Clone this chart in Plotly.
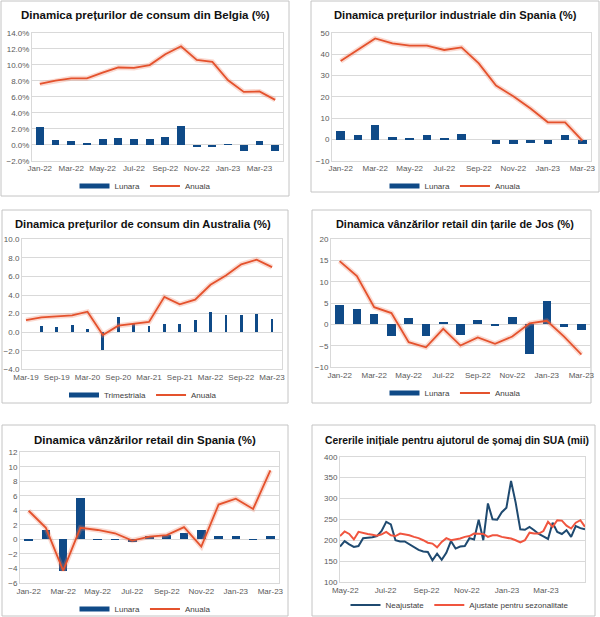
import plotly.graph_objects as go
import pandas as pd

# ---------------- data ----------------
months16 = ["Jan-22", "Feb-22", "Mar-22", "Apr-22", "May-22", "Jun-22", "Jul-22", "Aug-22",
            "Sep-22", "Oct-22", "Nov-22", "Dec-22", "Jan-23", "Feb-23", "Mar-23", "Apr-23"]
months15 = months16[:15]

be_lunara = [2.2, 0.65, 0.5, 0.3, 0.7, 0.85, 0.75, 0.75, 0.95, 2.4, -0.2, -0.15, 0.05, -0.7, 0.55, -0.75]
be_anuala = [7.6, 8.0, 8.3, 8.3, 9.0, 9.65, 9.6, 9.95, 11.3, 12.3, 10.6, 10.35, 8.05, 6.6, 6.65, 5.6]

es_ind_lunara = [4.0, 2.0, 6.7, 1.3, 0.8, 2.0, 0.5, 2.7, None, -2.0, -2.2, -1.5, -2.0, 2.4, -2.0]
es_ind_anuala = [36.7, 42.0, 47.3, 45.0, 43.9, 43.9, 41.9, 43.1, 35.6, 25.2, 20.2, 14.5, 8.0, 8.0, -0.6]

quarters = ["Mar-19", "Jun-19", "Sep-19", "Dec-19", "Mar-20", "Jun-20", "Sep-20", "Dec-20",
            "Mar-21", "Jun-21", "Sep-21", "Dec-21", "Mar-22", "Jun-22", "Sep-22", "Dec-22", "Mar-23"]
au_trim = [None, 0.6, 0.5, 0.7, 0.3, -1.9, 1.6, 0.9, 0.6, 0.8, 0.8, 1.3, 2.1, 1.8, 1.8, 1.9, 1.4]
au_anuala = [1.3, 1.6, 1.7, 1.8, 2.2, -0.3, 0.7, 0.9, 1.1, 3.8, 3.0, 3.5, 5.1, 6.1, 7.3, 7.8, 7.0]

nl_lunara = [4.5, 3.6, 2.4, -2.8, 1.4, -2.8, 0.6, -2.4, 1.1, -0.5, 1.7, -6.9, 5.4, -0.7, -1.4]
nl_anuala = [14.9, 11.4, 4.1, 2.7, -4.1, -5.3, -1.0, -4.9, -3.0, -4.5, -2.8, 0.3, 0.9, -2.8, -7.0]

es_ret_lunara = [-0.2, 1.2, -4.4, 5.65, -0.05, -0.1, -0.45, 0.4, 0.6, 0.85, 1.3, 0.5, 0.4, -0.1, 0.5]
es_ret_anuala = [3.95, 1.6, -4.3, 1.6, 1.3, 0.85, -0.15, 0.4, 0.6, 1.7, -1.0, 4.8, 5.6, 4.2, 9.5]

us_start = "2022-04-23"
us_neajustate = [185, 198, 190, 184, 186, 205, 206, 207, 210, 222, 244, 238, 200, 197, 197, 190, 183, 177, 173, 172,
                 152, 168, 153, 170, 198, 180, 185, 186, 205, 202, 249, 200, 288, 250, 249, 267, 278,
                 342, 290, 226, 225, 232, 224, 215, 209, 203, 242, 220, 215, 224, 208, 234, 229, 226]
us_ajustate = [210, 221, 215, 202, 220, 217, 215, 213, 211, 214, 220, 212, 210, 216, 214, 212, 208,
               205, 200, 194, 192, 183, 196, 205, 200, 202, 204, 208, 210, 216, 215, 215, 208, 212, 212, 208, 206,
               204, 200, 195, 200, 218, 216, 216, 222, 244, 232, 248, 247, 235, 228, 242, 248, 232]

titles = ["Dinamica prețurilor de consum din Belgia (%)",
          "Dinamica prețurilor industriale din Spania (%)",
          "Dinamica prețurilor de consum din Australia (%)",
          "Dinamica vânzărilor retail din țarile de Jos (%)",
          "Dinamica vânzărilor retail din Spania (%)",
          "Cererile inițiale pentru ajutorul de șomaj din SUA (mii)"]

# ---------------- style ----------------
W, H = 600, 617
BLUE = "#0f4a87"
RED = "#e4522d"
GLOW = "rgba(240,130,100,0.30)"
GRID = "#d9d9d9"
TICKF = dict(family="Liberation Sans, Arial, sans-serif", size=8, color="#595959")
TITLE_FAMILY = "Liberation Sans, Arial, sans-serif"
title_sizes = [11.5, 11.2, 11.2, 10.9, 11.5, 10.3]


def px(x):
    return x / W


def py(y):
    return 1 - y / H


us_dates = pd.date_range(us_start, periods=len(us_neajustate), freq="7D")

fig = go.Figure()

doms = {
    1: ((32, 283), (32.7, 160.7)),
    2: ((332, 591), (32.7, 160.7)),
    3: ((22, 282), (239.3, 369.3)),
    4: ((331, 590), (239.3, 367.3)),
    5: ((20, 279), (452.3, 583)),
    6: ((340, 585), (456.7, 582)),
}


def ax(i):
    return ("x" if i == 1 else f"x{i}"), ("y" if i == 1 else f"y{i}")


def lg(i):
    return "legend" if i == 1 else f"legend{i}"


def add_bar_line(i, cats, bars, line, bar_name, bar_width):
    xa, ya = ax(i)
    fig.add_trace(go.Bar(x=cats, y=bars, xaxis=xa, yaxis=ya, marker=dict(color=BLUE, line=dict(width=0)),
                         width=bar_width, showlegend=False, name=bar_name))
    fig.add_trace(go.Scatter(x=cats, y=line, xaxis=xa, yaxis=ya, mode="lines",
                             line=dict(color=GLOW, width=5), showlegend=False, hoverinfo="skip"))
    fig.add_trace(go.Scatter(x=cats, y=line, xaxis=xa, yaxis=ya, mode="lines",
                             line=dict(color=RED, width=1.8), showlegend=False, name="Anuala"))
    # legend keys
    fig.add_trace(go.Scatter(x=[None], y=[None], xaxis=xa, yaxis=ya, mode="lines",
                             line=dict(color=BLUE, width=5), name=bar_name, legend=lg(i)))
    fig.add_trace(go.Scatter(x=[None], y=[None], xaxis=xa, yaxis=ya, mode="lines",
                             line=dict(color=RED, width=2), name="Anuala", legend=lg(i)))


add_bar_line(1, months16, be_lunara, be_anuala, "Lunara", 0.5)
add_bar_line(2, months15, es_ind_lunara, es_ind_anuala, "Lunara", 0.5)
add_bar_line(3, quarters, au_trim, au_anuala, "Trimestriala", 0.18)
add_bar_line(4, months15, nl_lunara, nl_anuala, "Lunara", 0.5)
add_bar_line(5, months15, es_ret_lunara, es_ret_anuala, "Lunara", 0.5)

fig.add_trace(go.Scatter(x=us_dates, y=us_neajustate, xaxis="x6", yaxis="y6", mode="lines",
                         line=dict(color="#1f4a70", width=2), name="Neajustate", legend="legend6"))
fig.add_trace(go.Scatter(x=us_dates, y=us_ajustate, xaxis="x6", yaxis="y6", mode="lines",
                         line=dict(color="#f0553f", width=2), name="Ajustate pentru sezonalitate",
                         legend="legend6"))

layout = dict(width=W, height=H, margin=dict(l=0, r=0, t=0, b=0, pad=0, autoexpand=False),
              paper_bgcolor="white", plot_bgcolor="white", bargap=0)

yspecs = {
    1: dict(range=[-2, 14], dtick=2, tickformat=".1f", ticksuffix="%"),
    2: dict(range=[-10, 50], dtick=10, tickformat="d"),
    3: dict(range=[-4, 10], dtick=2, tickformat=".1f"),
    4: dict(range=[-10, 20], dtick=5, tickformat="d"),
    5: dict(range=[-6, 12], dtick=2, tickformat="d"),
    6: dict(range=[100, 400], dtick=50, tickformat="d"),
}
xspecs = {
    1: dict(type="category", range=[-0.5, 15.5], tickmode="array", tickvals=months16[::2], ticktext=months16[::2]),
    2: dict(type="category", range=[-0.5, 14.5], tickmode="array", tickvals=months15[::2], ticktext=months15[::2]),
    3: dict(type="category", range=[-0.26, 16.65], tickmode="array", tickvals=quarters[::2], ticktext=quarters[::2]),
    4: dict(type="category", range=[-0.5, 14.5], tickmode="array", tickvals=months15[::2], ticktext=months15[::2]),
    5: dict(type="category", range=[-0.5, 14.5], tickmode="array", tickvals=months15[::2], ticktext=months15[::2]),
    6: dict(type="date", range=[us_dates[0], us_dates[-1]], tick0="2022-05-01", dtick="M2", tickformat="%b-%y"),
}

for i in range(1, 7):
    (x0, x1), (y0, y1) = doms[i]
    xa, ya = ax(i)
    xkey = "xaxis" if i == 1 else f"xaxis{i}"
    ykey = "yaxis" if i == 1 else f"yaxis{i}"
    layout[xkey] = dict(domain=[px(x0), px(x1)], anchor=ya, showgrid=False, zeroline=False, automargin=False,
                        showline=True, linecolor=GRID, mirror=True, ticks="", tickfont=TICKF,
                        fixedrange=True, tickangle=0, **xspecs[i])
    layout[ykey] = dict(domain=[py(y1), py(y0)], anchor=xa, showgrid=True, gridcolor=GRID, gridwidth=1,
                        zeroline=False, showline=True, linecolor=GRID, mirror=True, ticks="", automargin=False,
                        tickfont=TICKF, fixedrange=True, **yspecs[i])

legpos = {1: (145, 186), 2: (455, 186), 3: (143, 395), 4: (455, 393), 5: (145, 609), 6: (460, 605)}
for i, (lx, ly) in legpos.items():
    layout[lg(i)] = dict(x=px(lx), y=py(ly), xanchor="center", yanchor="middle", orientation="h",
                         font=dict(family="Liberation Sans, Arial, sans-serif", size=8, color="#404040"),
                         bgcolor="rgba(0,0,0,0)", itemwidth=30, tracegroupgap=0)

fig.update_layout(**layout)

tpos = [(145, 15), (455, 15), (143, 224), (455, 224), (145, 440), (457, 440)]
for t, (tx, ty), fs in zip(titles, tpos, title_sizes):
    fig.add_annotation(text=f"<b>{t}</b>", x=px(tx), y=py(ty), xref="paper", yref="paper",
                       xanchor="center", yanchor="middle", showarrow=False,
                       font=dict(family=TITLE_FAMILY, size=fs, color="#111111"))

boxes = [(1, 1, 289, 196), (311, 1, 599, 192), (2, 210, 288, 403), (312, 210, 591, 403),
         (2, 425, 288, 616), (312, 425, 595, 616)]
for (a, b, c, d) in boxes:
    fig.add_shape(type="rect", xref="paper", yref="paper", x0=px(a), x1=px(c), y0=py(d), y1=py(b),
                  line=dict(color="#c4c4c4", width=1), fillcolor="rgba(0,0,0,0)", layer="below")

fig.write_html("out.html", config={"displayModeBar": False},
               post_script="document.body.style.margin='0';document.body.style.overflow='hidden';")
